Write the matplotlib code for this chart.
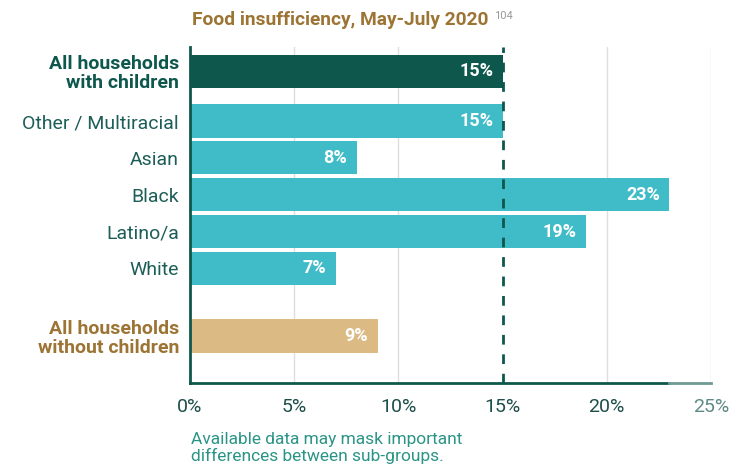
import matplotlib.pyplot as plt
from matplotlib.transforms import blended_transform_factory

plt.rcParams['font.family'] = ['Roboto', 'DejaVu Sans']

labels = ["All households\nwith children", "Other / Multiracial", "Asian", "Black",
          "Latino/a", "White", "All households\nwithout children"]
values = [15, 15, 8, 23, 19, 7, 9]
ticks = [0, 5, 10, 15, 20, 25]

DARK = "#0e574d"
CYAN = "#40bcc8"
TAN = "#dbbb83"
GOLD = "#9c7434"
colors = [DARK, CYAN, CYAN, CYAN, CYAN, CYAN, TAN]
label_colors = [DARK, "#1d5e58", "#1d5e58", "#1d5e58", "#1d5e58", "#1d5e58", GOLD]
label_weights = ["bold", "normal", "normal", "normal", "normal", "normal", "bold"]
ypos = [0, 1.34, 2.33, 3.33, 4.33, 5.32, 7.15]

fig = plt.figure(figsize=(7.46, 4.67), dpi=100)
ax = fig.add_axes([190 / 746, 1 - 383 / 467, 521 / 746, 336 / 467])

ax.barh(ypos, values, height=0.9, color=colors, zorder=2)
ax.set_xlim(0, 25)
ax.set_ylim(8.42, -0.66)

for x in [5, 10, 20, 25]:
    ax.axvline(x, color="#dedede", linewidth=1, zorder=0)
ax.axvline(15, color=DARK, linewidth=2, linestyle=(0, (3.5, 3.5)), zorder=3)

for s in ["top", "right"]:
    ax.spines[s].set_visible(False)
ax.spines["bottom"].set_visible(False)
ax.spines["left"].set_color(DARK)
ax.spines["left"].set_linewidth(2)
tr = blended_transform_factory(ax.transData, ax.transAxes)
ax.plot([0, 23], [0, 0], color=DARK, linewidth=2, transform=tr, clip_on=False, zorder=4)
ax.plot([23, 25], [0, 0], color="#6f9a94", linewidth=2, transform=tr, clip_on=False, zorder=4)

ax.set_xticks(ticks)
ax.set_xticklabels([f"{t}%" for t in ticks], fontsize=14, color="#1d4f4a")
ax.get_xticklabels()[-1].set_color("#5e8a85")
ax.tick_params(axis="x", length=0, pad=11)

ax.set_yticks(ypos)
ax.set_yticklabels(labels, fontsize=14, linespacing=1.05)
ax.tick_params(axis="y", length=0, pad=8)
for lab, c, w in zip(ax.get_yticklabels(), label_colors, label_weights):
    lab.set_color(c)
    lab.set_fontweight(w)

for y, v in zip(ypos, values):
    ax.text(v - 0.45, y, f"{v}%", ha="right", va="center", color="white",
            fontsize=13, fontweight="bold", zorder=5)

fig.text(192 / 746, 1 - 20 / 467, "Food insufficiency, May-July 2020", color=GOLD,
         fontsize=13.8, fontweight="bold", ha="left", va="center")
fig.text(494 / 746, 1 - 16 / 467, "104", color="#999999", fontsize=8,
         ha="left", va="center")

fig.text(191 / 746, 1 - 448 / 467,
         "Available data may mask important\ndifferences between sub-groups.",
         color="#2a9486", fontsize=12.5, ha="left", va="center", linespacing=1.0)

fig.savefig("out.png", dpi=100)
